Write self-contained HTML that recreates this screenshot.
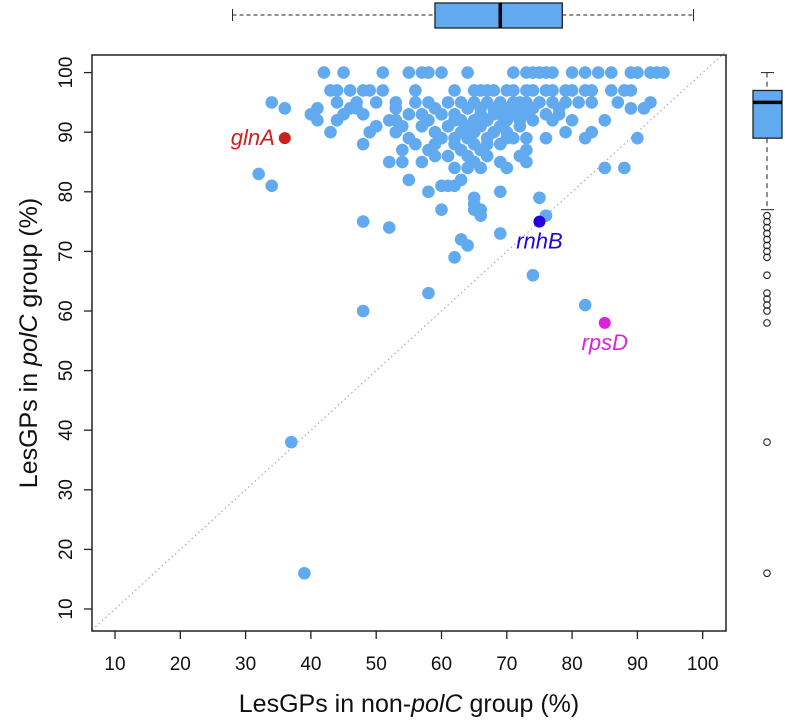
<!DOCTYPE html>
<html><head><meta charset="utf-8"><style>
html,body{margin:0;padding:0;background:#fff;}
svg{display:block;font-family:"Liberation Sans",Arial,sans-serif;}
</style></head><body>
<svg id="chart" width="785" height="724" viewBox="0 0 785 724" xmlns="http://www.w3.org/2000/svg"></svg>
<script>
const xTicks=[10,20,30,40,50,60,70,80,90,100];
const yTicks=[10,20,30,40,50,60,70,80,90,100];
const rowY=[100,97,95,94,93,92,91,90,89,88,87,86,85,84,82,81,80,79,78,77,76];
const rowX=[
[42,45,51,55,57,58,60,64,71,73,74,75,76,77,80,82,84,86,89,90,92,93,94],
[43,44,46,48,49,51,56,62,65,66,67,68,70,71,73,74,76,77,79,80,82,83,86,88,89],
[34,44,47,50,53,56,58,61,63,65,67,69,71,72,73,75,77,79,81,83,87,92],
[36,41,46,47,53,59,64,66,68,70,72,74,78,89,91],
[40,45,48,55,57,60,62,66,68,69,71,73,76,78],
[41,44,52,53,58,62,63,65,67,70,72,74,77,80,85],
[50,54,57,61,64,66,69,72],
[43,49,53,59,63,65,68,70,79,83],
[55,60,62,64,67,70,71,73,76,82,90],
[48,56,59,62,65,67,69],
[54,58,63,66,73],
[59,61,64,67,72],
[52,54,57,65,69,73],
[62,64,66,70,85,88],
[55,63],
[60,61,62,34],
[58,69],
[65,75],
[65],
[60,65,66],
[66,76]];
const extraX=[32,37,39,48,48,52,58,62,63,64,69,74,82];
const extraY=[83,38,16,75,60,74,63,69,72,71,73,66,61];
const labelNames=["glnA","rnhB","rpsD"];
const labelX=[36,75,85];
const labelY=[89,75,58];
const labelColors=["#cc2020","#2200e0","#dd22dd"];
const topBoxStats=[28,59,69,78.5,98.6];
const rightBoxStats=[77,89,95,97,100];
const rightOutliers=[76,75,74,73,72,71,70,69,66,63,62,61,60,58,38,16];

const svg=document.getElementById('chart');
const NS='http://www.w3.org/2000/svg';
const X=v=>115+(v-10)*6.53;
const Y=v=>609-(v-10)*5.96;
function mk(t,a,p){const e=document.createElementNS(NS,t);for(const k in a)e.setAttribute(k,a[k]);(p||svg).appendChild(e);return e;}

const dl=mk('line',{x1:92,y1:Y(10+(92-115)/6.53),x2:726,y2:Y(10+(726-115)/6.53),stroke:'#aaa','stroke-dasharray':'1.5,3','stroke-width':1.2});



const pg=mk('g',{});


rowY.forEach((y,i)=>rowX[i].forEach(x=>{
  const c=mk('circle',{cx:X(x),cy:Y(y),r:6.3,fill:'#62aaf0'},pg);
  
  
}));
extraX.forEach((x,i)=>{
  const c=mk('circle',{cx:X(x),cy:Y(extraY[i]),r:6.3,fill:'#62aaf0'},pg);
  
  
});
labelNames.forEach((n,i)=>{
  const c=mk('circle',{cx:X(labelX[i]),cy:Y(labelY[i]),r:6,fill:labelColors[i]});
  
  
  let tx,ty,anc;
  if(i===0){tx=X(labelX[i])-10;ty=Y(labelY[i])+7;anc='end';}
  else{tx=X(labelX[i]);ty=Y(labelY[i])+27;anc='middle';}
  const t=mk('text',{x:tx,y:ty,'text-anchor':anc,fill:labelColors[i],'font-size':22,'font-style':'italic'});
  t.textContent=n;
  
  
});

const fr=mk('rect',{x:92,y:55,width:634,height:576,fill:'none',stroke:'#222','stroke-width':1.5});


xTicks.forEach(v=>{
  mk('line',{x1:X(v),x2:X(v),y1:631,y2:639,stroke:'#222','stroke-width':1.3});
  const t=mk('text',{x:X(v),y:670,'text-anchor':'middle','font-size':19,fill:'#111'});
  t.textContent=v;
  
  
});
yTicks.forEach(v=>{
  mk('line',{x1:84,x2:92,y1:Y(v),y2:Y(v),stroke:'#222','stroke-width':1.3});
  const t=mk('text',{x:0,y:0,'text-anchor':'middle','font-size':19,fill:'#111',transform:`translate(72,${Y(v)}) rotate(-90)`});
  t.textContent=v;
  
  
});
const xt=mk('text',{x:409,y:712,'text-anchor':'middle','font-size':25,fill:'#111'});
xt.innerHTML='LesGPs in non-<tspan font-style="italic">polC</tspan> group (%)';


const yt=mk('text',{x:0,y:0,'text-anchor':'middle','font-size':25,fill:'#111',transform:'translate(37,343) rotate(-90)'});
yt.innerHTML='LesGPs in <tspan font-style="italic">polC</tspan> group (%)';



const tb=mk('g',{});


const [a,b,c,d,e]=topBoxStats;
mk('line',{x1:X(a),x2:X(b),y1:15,y2:15,stroke:'#222','stroke-dasharray':'4,3'},tb);
mk('line',{x1:X(d),x2:X(e),y1:15,y2:15,stroke:'#222','stroke-dasharray':'4,3'},tb);
mk('line',{x1:X(a),x2:X(a),y1:9,y2:21,stroke:'#222'},tb);
mk('line',{x1:X(e),x2:X(e),y1:9,y2:21,stroke:'#222'},tb);
mk('rect',{x:X(b),y:3,width:X(d)-X(b),height:25,fill:'#62aaf0',stroke:'#222','stroke-width':1.3},tb);
mk('line',{x1:X(c),x2:X(c),y1:3,y2:28,stroke:'#000','stroke-width':3.5},tb);

const rb=mk('g',{});


const [p,q,r,s,u]=rightBoxStats;
mk('line',{x1:767,x2:767,y1:Y(u),y2:Y(s),stroke:'#222','stroke-dasharray':'5,4'},rb);
mk('line',{x1:767,x2:767,y1:Y(q),y2:Y(p),stroke:'#222','stroke-dasharray':'5,4'},rb);
mk('line',{x1:761,x2:774,y1:Y(u),y2:Y(u),stroke:'#222'},rb);
mk('line',{x1:761,x2:774,y1:Y(p),y2:Y(p),stroke:'#222'},rb);
mk('rect',{x:753,y:Y(s),width:29,height:Y(q)-Y(s),fill:'#62aaf0',stroke:'#222','stroke-width':1.3},rb);
mk('line',{x1:753,x2:782,y1:Y(r),y2:Y(r),stroke:'#000','stroke-width':3.5},rb);
rightOutliers.forEach(v=>{
  const o=mk('circle',{cx:767,cy:Y(v),r:3.3,fill:'none',stroke:'#222','stroke-width':1.1},rb);
  
  
});
</script>
</body></html>
